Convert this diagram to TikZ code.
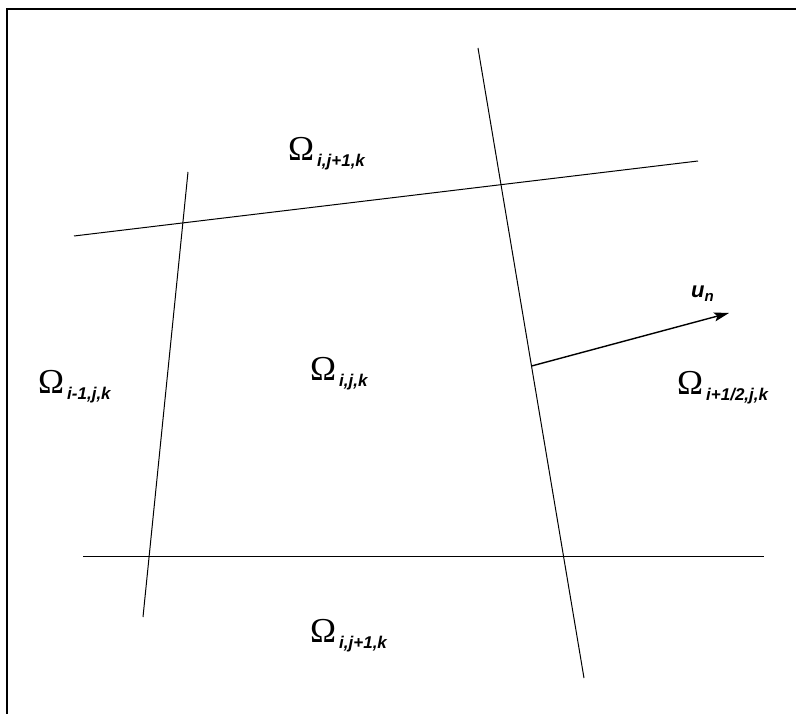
\documentclass[tikz,border=0pt]{standalone}
\usepackage{fontspec}
\setmainfont{Liberation Serif}
\newfontfamily\subfont{Liberation Sans}
\usetikzlibrary{arrows.meta,calc}
\tikzset{
  gridline/.style={line width=1pt, black},
  frameline/.style={line width=1.6pt, black},
  omlabel/.style={anchor=base west, inner sep=0pt, font=\fontsize{35}{35}\selectfont},
  flux/.style={line width=1.4pt, -{Stealth[length=15pt,width=9pt,inset=3pt]}}
}
\newcommand{\Om}[1]{Ω\raisebox{-6pt}{\hspace{3pt}\subfont\bfseries\itshape\fontsize{17}{17}\selectfont #1}}
\begin{document}
\begin{tikzpicture}[x=1pt,y=-1pt]
\useasboundingbox (0,0) rectangle (796,714);
\draw[frameline] (7,714) -- (7,9) -- (796,9);
% grid line end points
\coordinate (T1) at (74,236);
\coordinate (T2) at (698,161);
\coordinate (B1) at (83,556);
\coordinate (B2) at (764,556);
\coordinate (L1) at (188,172);
\coordinate (L2) at (143,617);
\coordinate (R1) at (478,48);
\coordinate (R2) at (584,678);
\draw[gridline] (T1) -- (T2);
\draw[gridline] (B1) -- (B2);
\draw[gridline] (L1) -- (L2);
\draw[gridline] (R1) -- (R2);
% flux vector
\coordinate (A0) at ($(R1)!0.5048!(R2)$);
\coordinate (A1) at (729,313);
\draw[flux] (A0) -- (A1);
\node[anchor=base west, inner sep=0pt, font=\subfont\bfseries\itshape\fontsize{22}{22}\selectfont] (un) at (691,298) {u\raisebox{-4pt}{\fontsize{15}{15}\selectfont n}};
% cell labels
\node[omlabel] (top) at (288,161) {\Om{i,j+1,k}};
\node[omlabel] (left) at (38,393) {\Om{i-1,j,k}};
\node[omlabel] (mid) at (310,381) {\Om{i,j,k}};
\node[omlabel] (right) at (677,394) {\Om{i+1/2,j,k}};
\node[omlabel] (bot) at (310,642) {\Om{i,j+1,k}};
\end{tikzpicture}
\end{document}
